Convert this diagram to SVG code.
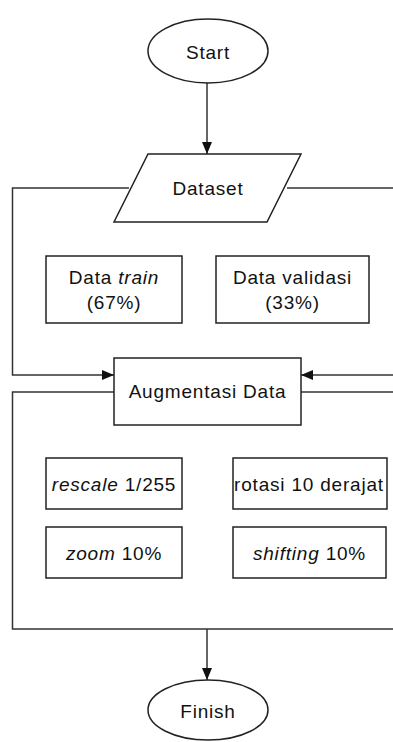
<svg xmlns="http://www.w3.org/2000/svg" width="393" height="742" viewBox="0 0 393 742">
  <style>
    .shape { fill: #ffffff; stroke: #222222; stroke-width: 1.5; }
    .edge { fill: none; stroke: #333333; stroke-width: 1.5; }
    .label { font-family: "Liberation Sans", Arial, sans-serif; font-size: 19px; letter-spacing: 0.8px; fill: #111111; text-anchor: middle; }
    .it { font-style: italic; }
  </style>
  <defs>
    <marker id="arrow" markerUnits="userSpaceOnUse" markerWidth="14" markerHeight="12" refX="12" refY="5" orient="auto">
      <path d="M0,0 L12,5 L0,10 Z" fill="#111111"/>
    </marker>
  </defs>
  <rect width="393" height="742" fill="#ffffff"/>

  <!-- connectors -->
  <g id="connectors">
    <path class="edge" d="M207,83 V154" marker-end="url(#arrow)"/>
    <path class="edge" d="M129,188 H12.5 V375 H114" marker-end="url(#arrow)"/>
    <path class="edge" d="M287,188 H393"/>
    <path class="edge" d="M393,375 H301" marker-end="url(#arrow)"/>
    <path class="edge" d="M114,392 H12.5 V629 H393"/>
    <path class="edge" d="M301,392 H393"/>
    <path class="edge" d="M207,629 V680" marker-end="url(#arrow)"/>
  </g>

  <!-- nodes -->
  <g id="start">
    <ellipse class="shape" cx="208" cy="51" rx="60" ry="32"/>
    <text class="label" x="208" y="58.5">Start</text>
  </g>
  <g id="dataset">
    <polygon class="shape" points="148,154 301,154 267,222 114,222"/>
    <text class="label" x="208" y="194.5">Dataset</text>
  </g>
  <g id="data-train">
    <rect class="shape" x="46" y="256" width="136" height="67"/>
    <text class="label" x="114" y="284">Data <tspan class="it">train</tspan></text>
    <text class="label" x="114" y="309">(67%)</text>
  </g>
  <g id="data-validasi">
    <rect class="shape" x="216" y="256" width="153" height="67"/>
    <text class="label" x="292.5" y="284">Data validasi</text>
    <text class="label" x="292.5" y="309">(33%)</text>
  </g>
  <g id="augmentasi">
    <rect class="shape" x="114" y="358" width="187" height="67"/>
    <text class="label" x="207.5" y="398">Augmentasi Data</text>
  </g>
  <g id="rescale">
    <rect class="shape" x="46" y="458" width="136" height="51"/>
    <text class="label" x="114" y="491"><tspan class="it">rescale</tspan> 1/255</text>
  </g>
  <g id="rotasi">
    <rect class="shape" x="233" y="458" width="154" height="51"/>
    <text class="label" x="309" y="491">rotasi 10 derajat</text>
  </g>
  <g id="zoom">
    <rect class="shape" x="46" y="527" width="136" height="51"/>
    <text class="label" x="114" y="560"><tspan class="it">zoom</tspan> 10%</text>
  </g>
  <g id="shifting">
    <rect class="shape" x="233" y="527" width="153" height="51"/>
    <text class="label" x="309.5" y="560"><tspan class="it">shifting</tspan> 10%</text>
  </g>
  <g id="finish">
    <ellipse class="shape" cx="208" cy="710" rx="60" ry="30"/>
    <text class="label" x="208" y="717.5">Finish</text>
  </g>
</svg>
